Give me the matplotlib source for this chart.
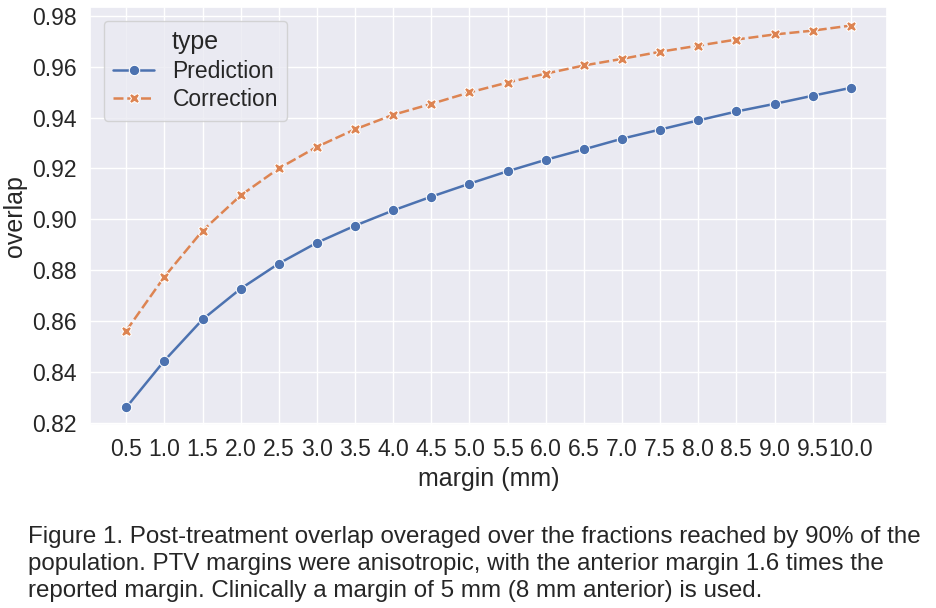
import numpy as np
import pandas as pd
import matplotlib
matplotlib.use("Agg")
import matplotlib.pyplot as plt
import seaborn as sns

margins = ["0.5", "1.0", "1.5", "2.0", "2.5", "3.0", "3.5", "4.0", "4.5", "5.0",
           "5.5", "6.0", "6.5", "7.0", "7.5", "8.0", "8.5", "9.0", "9.5", "10.0"]
prediction = [0.8260, 0.8444, 0.8606, 0.8727, 0.8826, 0.8908, 0.8975, 0.9035, 0.9089, 0.9140,
              0.9189, 0.9234, 0.9275, 0.9317, 0.9353, 0.9389, 0.9424, 0.9454, 0.9486, 0.9517]
correction = [0.8562, 0.8774, 0.8955, 0.9094, 0.9200, 0.9285, 0.9354, 0.9411, 0.9454, 0.9499,
              0.9538, 0.9573, 0.9605, 0.9631, 0.9659, 0.9683, 0.9707, 0.9727, 0.9742, 0.9762]

caption = ("Figure 1. Post-treatment overlap overaged over the fractions reached by 90% of the\n"
           "population. PTV margins were anisotropic, with the anterior margin 1.6 times the\n"
           "reported margin. Clinically a margin of 5 mm (8 mm anterior) is used.")

df = pd.DataFrame({
    "margin (mm)": margins + margins,
    "overlap": prediction + correction,
    "type": ["Prediction"] * len(margins) + ["Correction"] * len(margins),
})

sns.set_theme(style="darkgrid", font_scale=1.5)
plt.rcParams["font.family"] = ["Liberation Sans", "DejaVu Sans"]

fig = plt.figure(figsize=(9.36, 6.08), dpi=100)
ax = fig.add_axes([0.0962, 0.301, 0.8515, 0.6875])
sns.lineplot(data=df, x="margin (mm)", y="overlap", hue="type", style="type",
             markers=True, dashes=True, markersize=7.5, linewidth=1.8, ax=ax)
ax.set_ylim(0.8191, 0.9835)
ax.set_yticks(np.arange(0.82, 0.981, 0.02))
ax.legend(title="type", loc="upper left", labelspacing=0.25, handlelength=1.8,
          borderaxespad=0.6)

fig.text(0.03, 0.01, caption, fontsize=17.4, ha="left", va="bottom",
         linespacing=1.28)

fig.savefig("out.png", dpi=100)
